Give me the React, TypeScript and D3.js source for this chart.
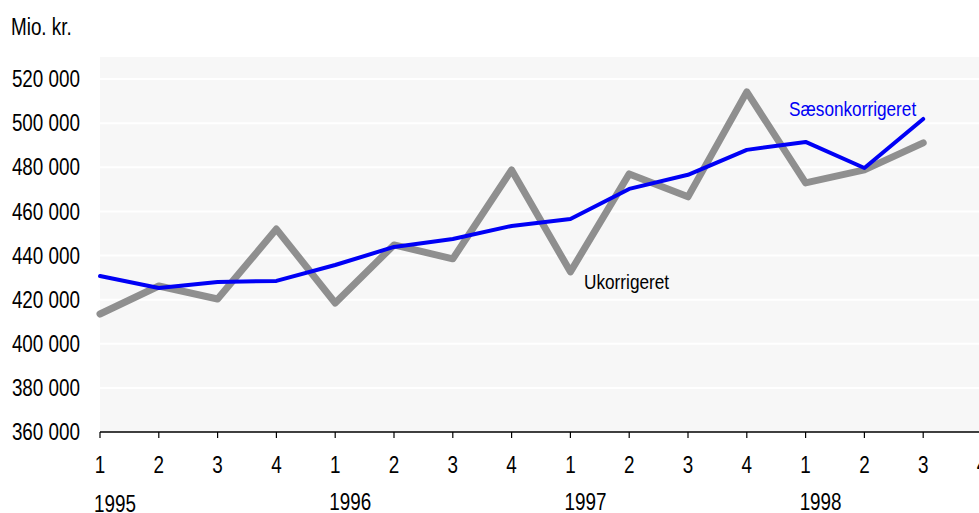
import React from "react";
import * as d3 from "d3";

const quarters = ["1", "2", "3", "4", "1", "2", "3", "4", "1", "2", "3", "4", "1", "2", "3", "4"];
const years = ["1995", "1996", "1997", "1998"];
const yTicks = [360000, 380000, 400000, 420000, 440000, 460000, 480000, 500000, 520000];

// Ukorrigeret (unadjusted), 1995 Q1 - 1998 Q3
const ukorrigeret = [
  413500, 426200, 420300, 452000, 418500, 444800, 438500, 478800, 432600, 477000, 466600, 514200,
  472900, 478800, 491100,
];
// Sæsonkorrigeret (seasonally adjusted)
const saesonkorrigeret = [
  430700, 425300, 428000, 428500, 435700, 443900, 447500, 453400, 456600, 470200, 476600, 487900,
  491500, 479700, 501900,
];

const W = 979;
const H = 513;
const font = "'Liberation Sans', Arial, sans-serif";

// narrow text: Arial squeezed to ~82% like Arial Narrow
const NText = ({ x, y, size, anchor = "start", fill = "#000", children }: any) => (
  <text
    transform={`translate(${x},${y}) scale(0.82,1)`}
    textAnchor={anchor}
    dominantBaseline="central"
    fontSize={size}
    fill={fill}
  >
    {children}
  </text>
);

export default function App() {
  const left = 100;
  const top = 57;
  const bottom = 432;

  const x = d3
    .scalePoint<number>()
    .domain(d3.range(quarters.length))
    .range([left, left + 58.8 * (quarters.length - 1)]);

  const y = d3.scaleLinear().domain([360000, 530000]).range([bottom, top]);

  const line = d3
    .line<number>()
    .x((_, i) => x(i)!)
    .y((d) => y(d));

  return (
    <svg
      width={W}
      height={H}
      style={{ position: "absolute", left: 0, top: 0, display: "block", background: "#fff" }}
      fontFamily={font}
    >
      <rect x={left} y={top} width={W - left} height={bottom - top} fill="#f7f7f7" />
      {yTicks.slice(1).map((t) => (
        <line key={t} x1={left} x2={W} y1={y(t)} y2={y(t)} stroke="#fff" strokeWidth={2} />
      ))}

      {yTicks.map((t) => (
        <NText key={t} x={80} y={y(t)} size={23} anchor="end">
          {d3.format(",")(t).replace(",", " ")}
        </NText>
      ))}
      <NText x={11} y={27} size={23}>
        Mio. kr.
      </NText>

      <line x1={left} x2={W} y1={bottom} y2={bottom} stroke="#000" strokeWidth={1.5} />
      {quarters.map((q, i) => (
        <g key={i}>
          <line x1={x(i)} x2={x(i)} y1={bottom} y2={bottom + 6} stroke="#000" strokeWidth={1.2} />
          <NText x={x(i)} y={465} size={23} anchor="middle">
            {q}
          </NText>
        </g>
      ))}
      {years.map((yr, i) => (
        <NText key={yr} x={x(i * 4)! + 15} y={i === 0 ? 504 : 502} size={23} anchor="middle">
          {yr}
        </NText>
      ))}

      <path d={line(ukorrigeret)!} fill="none" stroke="#8f8f8f" strokeWidth={7} strokeLinejoin="round" strokeLinecap="round" />
      <path d={line(saesonkorrigeret)!} fill="none" stroke="#0000f5" strokeWidth={4} strokeLinejoin="round" strokeLinecap="round" />

      <NText x={584} y={282} size={21}>
        Ukorrigeret
      </NText>
      <NText x={789} y={109} size={21} fill="#0000f5">
        Sæsonkorrigeret
      </NText>
    </svg>
  );
}
